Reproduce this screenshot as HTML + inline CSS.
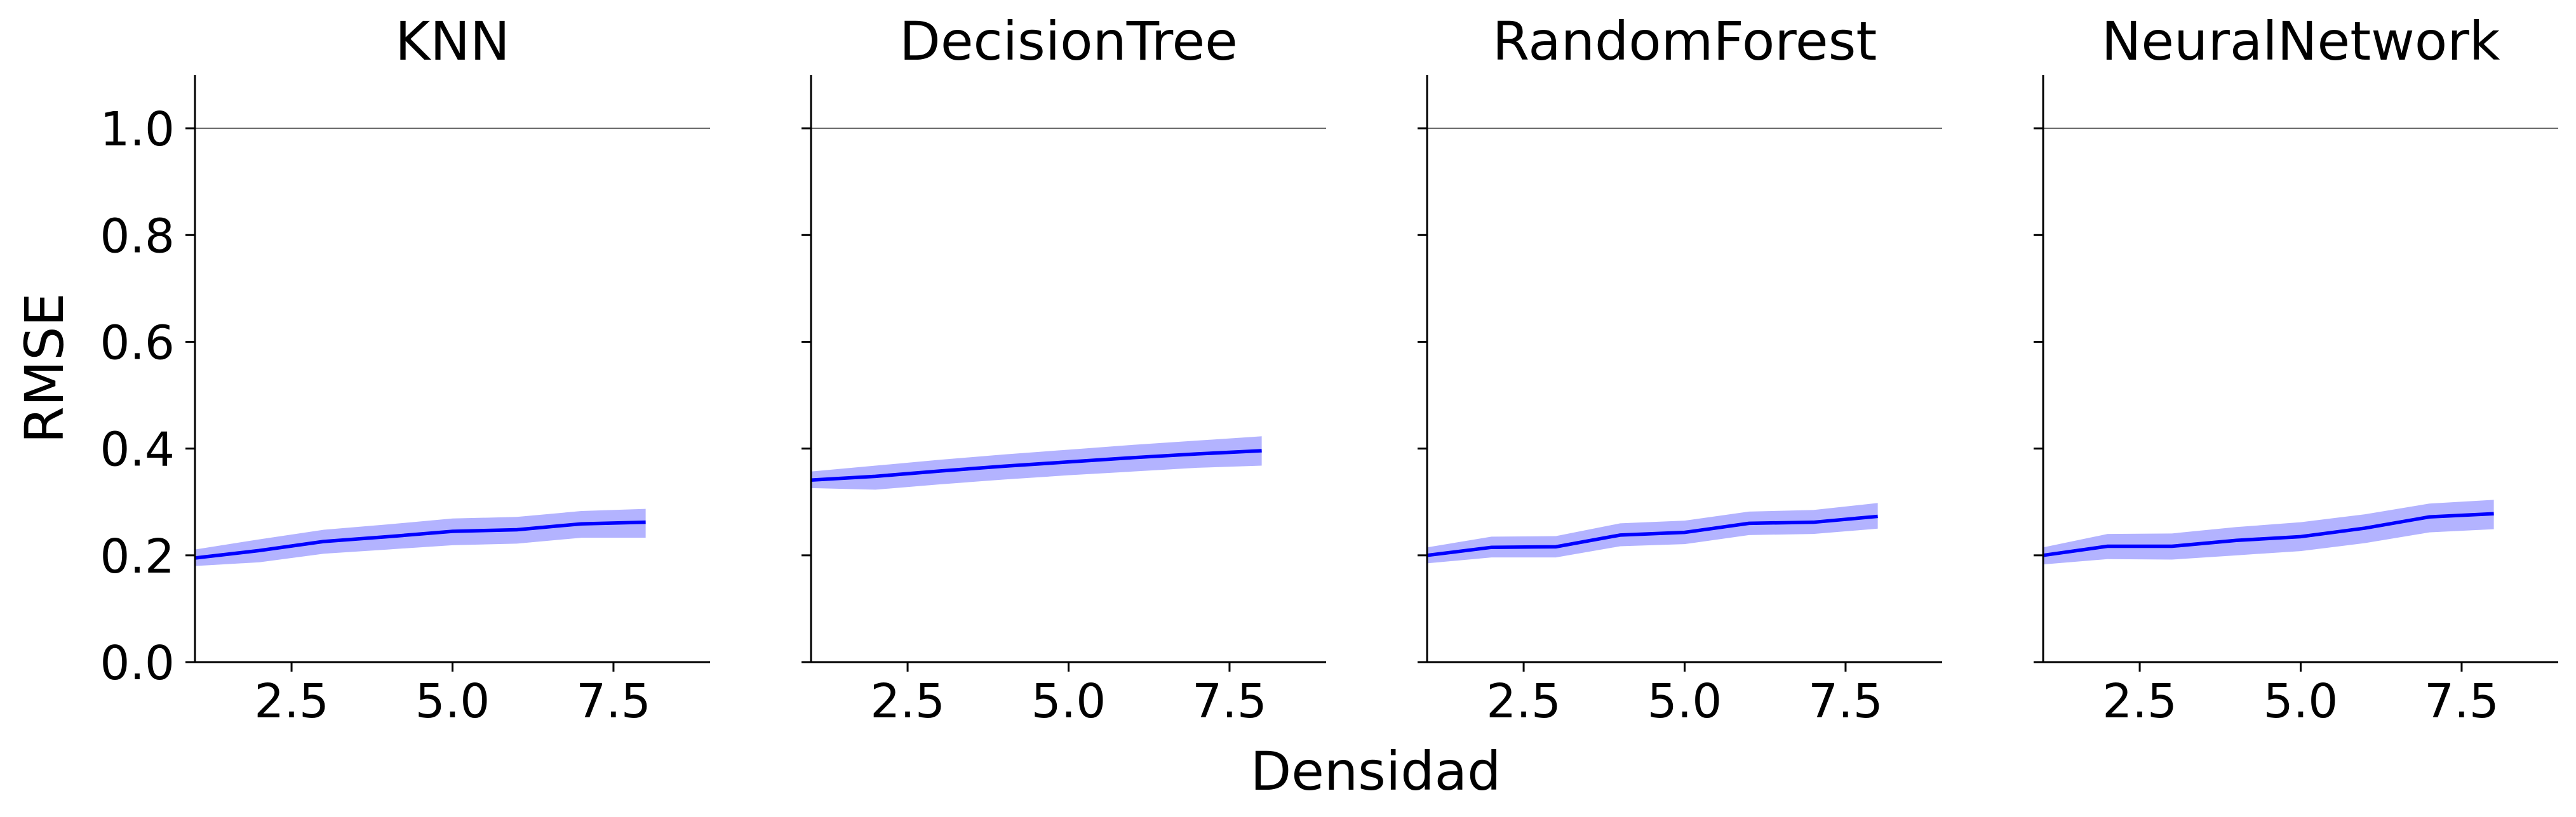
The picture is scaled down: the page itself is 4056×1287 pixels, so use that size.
<!DOCTYPE html>
<html><head><meta charset="utf-8"><style>
html,body{margin:0;padding:0;background:#fff;}
svg{display:block;}
text{font-family:"DejaVu Sans","Liberation Sans",sans-serif;fill:#000;}
</style></head><body>
<svg id="chart" width="4056" height="1287" viewBox="0 0 4056 1287" xmlns="http://www.w3.org/2000/svg">
<text x="0" y="0" font-size="84" text-anchor="middle" dominant-baseline="central" transform="translate(70,580) rotate(-90)">RMSE</text>
<text x="2166" y="1244" font-size="84" text-anchor="middle">Densidad</text>
</svg>
<script>
const titles = ["KNN","DecisionTree","RandomForest","NeuralNetwork"];
const xs = [1,2,3,4,5,6,7,8];
const knnMean  = [0.195,0.209,0.226,0.235,0.245,0.248,0.259,0.262];
const knnUpper = [0.211,0.230,0.248,0.258,0.269,0.272,0.283,0.287];
const knnLower = [0.180,0.187,0.203,0.211,0.219,0.222,0.233,0.233];
const dtMean  = [0.341,0.348,0.358,0.367,0.375,0.383,0.390,0.396];
const dtUpper = [0.357,0.368,0.379,0.389,0.398,0.407,0.415,0.423];
const dtLower = [0.326,0.323,0.333,0.342,0.350,0.357,0.364,0.368];
const rfMean  = [0.200,0.215,0.216,0.238,0.243,0.260,0.262,0.273];
const rfUpper = [0.215,0.235,0.236,0.260,0.265,0.282,0.285,0.298];
const rfLower = [0.185,0.196,0.196,0.217,0.221,0.238,0.240,0.250];
const nnMean  = [0.200,0.217,0.217,0.228,0.235,0.251,0.272,0.278];
const nnUpper = [0.215,0.240,0.241,0.253,0.262,0.277,0.297,0.304];
const nnLower = [0.183,0.193,0.192,0.200,0.208,0.223,0.243,0.249];
const yTicks = [0,0.2,0.4,0.6,0.8,1.0];
const yTickLabels = ["0.0","0.2","0.4","0.6","0.8","1.0"];
const xTicks = [2.5,5.0,7.5];
const xTickLabels = ["2.5","5.0","7.5"];
const refLine = 1.0;

const means=[knnMean,dtMean,rfMean,nnMean], uppers=[knnUpper,dtUpper,rfUpper,nnUpper], lowers=[knnLower,dtLower,rfLower,nnLower];
const NS="http://www.w3.org/2000/svg", svg=document.getElementById('chart');
const X0=307, PW=811, GAP=970, YB=1043, YT=118, XMIN=1, XMAX=9, YMAX=1.1;
function mk(tag,attrs,parent){const e=document.createElementNS(NS,tag);for(const k in attrs)e.setAttribute(k,attrs[k]);(parent||svg).appendChild(e);return e;}
for(let p=0;p<4;p++){
  const left=X0+p*GAP;
  const sx=v=>left+(v-XMIN)/(XMAX-XMIN)*PW;
  const sy=v=>YB-v/YMAX*(YB-YT);
  const g=mk('g',{});
  
  
  const t=mk('text',{x:left+PW/2,y:94,'font-size':84,'text-anchor':'middle'},g);t.textContent=titles[p];
  
  
  const ref=mk('line',{x1:left,x2:left+PW,y1:sy(refLine),y2:sy(refLine),stroke:'#666666','stroke-width':2},g);
  
  
  let d='M'+xs.map((x,i)=>sx(x)+','+sy(uppers[p][i])).join('L');
  d+='L'+xs.slice().reverse().map((x,j)=>{const i=xs.length-1-j;return sx(x)+','+sy(lowers[p][i]);}).join('L')+'Z';
  const band=mk('path',{d:d,fill:'#b3b3ff'},g);
  
  
  const ln=mk('polyline',{points:xs.map((x,i)=>sx(x)+','+sy(means[p][i])).join(' '),fill:'none',stroke:'#0000ff','stroke-width':5.5},g);
  
  
  const ya=mk('line',{x1:left,x2:left,y1:YT,y2:YB+1.5,stroke:'#000','stroke-width':3},g);
  
  
  const xa=mk('line',{x1:left-1.5,x2:left+PW,y1:YB,y2:YB,stroke:'#000','stroke-width':3},g);
  
  
  yTicks.forEach((v,i)=>{
    const tk=mk('line',{x1:left-15,x2:left,y1:sy(v),y2:sy(v),stroke:'#000','stroke-width':3},g);
    
    
    if(p===0){const tl=mk('text',{x:275,y:sy(v)+27,'font-size':74,'text-anchor':'end'},g);tl.textContent=yTickLabels[i];
      
      }
  });
  xTicks.forEach((v,i)=>{
    const tk=mk('line',{x1:sx(v),x2:sx(v),y1:YB,y2:YB+15,stroke:'#000','stroke-width':3},g);
    
    
    const tl=mk('text',{x:sx(v),y:1130,'font-size':74,'text-anchor':'middle'},g);tl.textContent=xTickLabels[i];
    
    
  });
}
</script>
</body></html>
